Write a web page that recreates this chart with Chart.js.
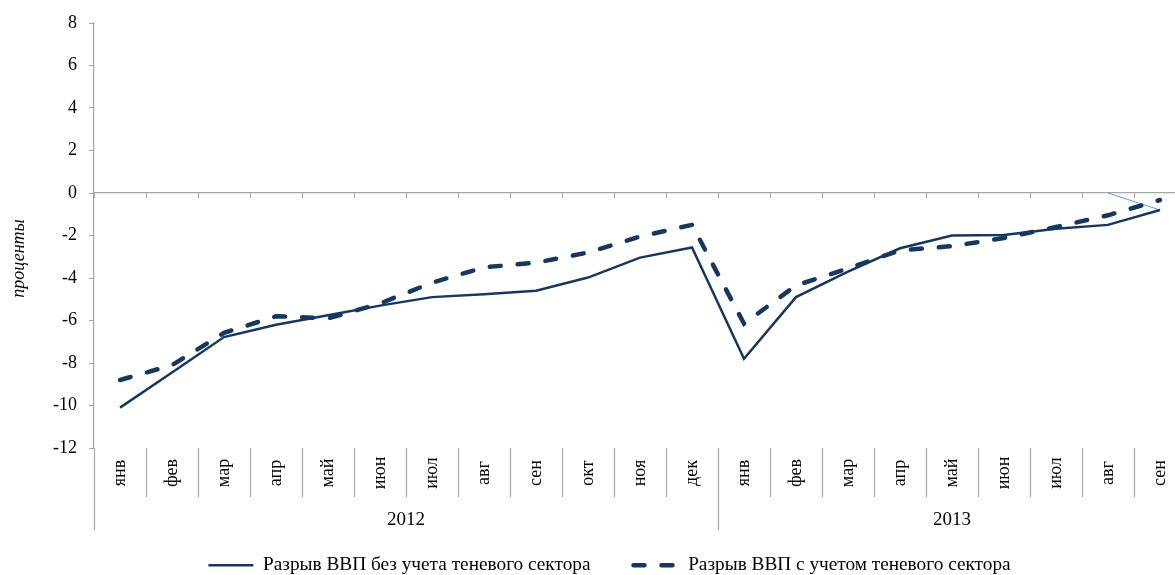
<!DOCTYPE html>
<html lang="ru">
<head>
<meta charset="utf-8">
<title>Разрыв ВВП</title>
<script src="https://cdn.jsdelivr.net/npm/chart.js@4.4.0/dist/chart.umd.min.js"></script>
<style>
    html, body { margin: 0; padding: 0; background: #fff; overflow: hidden; }
    #wrap { width: 1219px; height: 585px; position: relative; }
</style>
</head>
<body>
<div id="wrap"><canvas id="gapChart"></canvas></div>
<script>
// Данные
const months = ['янв', 'фев', 'мар', 'апр', 'май', 'июн', 'июл', 'авг', 'сен', 'окт', 'ноя', 'дек',
                'янв', 'фев', 'мар', 'апр', 'май', 'июн', 'июл', 'авг', 'сен'];
const years = ['2012', '2013'];
const yearLengths = [12, 9];

const gapNoShadow = [-10.1, -8.45, -6.78, -6.2, -5.75, -5.3, -4.9, -4.77, -4.6, -3.98, -3.04, -2.56,
                     -7.8, -4.9, -3.7, -2.6, -2.0, -1.98, -1.68, -1.5, -0.8];
const gapShadow = [-8.8, -8.1, -6.58, -5.8, -5.9, -5.2, -4.22, -3.5, -3.28, -2.8, -2.05, -1.5,
                   -6.15, -4.35, -3.55, -2.7, -2.5, -2.12, -1.6, -1.05, -0.33];
const thinLine = [null, null, null, null, null, null, null, null, null, null, null, null,
                  null, null, null, null, null, null, null, 0, -0.8];

const yTicks = [-12, -10, -8, -6, -4, -2, 0, 2, 4, 6, 8];

const seriesNames = ['Разрыв ВВП без учета теневого сектора', 'Разрыв ВВП с учетом теневого сектора'];
const yTitle = 'проценты';

const navy = '#17375e';
const axisGrey = '#a6a6a6';
const fontFamily = "'Liberation Serif', 'Times New Roman', serif";

// подписи месяцев и лет под графиком
const categoryBand = {
    id: 'categoryBand',
    afterDraw(chart) {
        const { ctx, chartArea, scales: { x } } = chart;
        const step = (x.right - x.left) / months.length;
        const top = chartArea.bottom;

        const groupEdges = [0];
        yearLengths.forEach(n => groupEdges.push(groupEdges[groupEdges.length - 1] + n));

        ctx.save();
        ctx.strokeStyle = axisGrey;
        ctx.lineWidth = 1.2;
        for (let i = 0; i <= months.length; i++) {
            const px = Math.round(x.left + i * step) + 0.5;
            const isEdge = groupEdges.includes(i);
            ctx.beginPath();
            ctx.moveTo(px, top);
            ctx.lineTo(px, top + (isEdge ? 82 : 49));
            ctx.stroke();
        }

        ctx.fillStyle = '#000';
        ctx.font = '18px ' + fontFamily;
        ctx.textAlign = 'center';
        ctx.textBaseline = 'middle';
        months.forEach((m, i) => {
            ctx.save();
            ctx.translate(x.getPixelForValue(i), top + 25);
            ctx.rotate(-Math.PI / 2);
            ctx.fillText(m, 0, 0);
            ctx.restore();
        });

        ctx.font = '19px ' + fontFamily;
        years.forEach((yr, k) => {
            const x0 = x.left + groupEdges[k] * step;
            const x1 = x.left + groupEdges[k + 1] * step;
            ctx.fillText(yr, (x0 + x1) / 2, top + 72);
        });

        // подпись оси Y
        ctx.save();
        ctx.font = 'italic 18px ' + fontFamily;
        ctx.translate(19, (chartArea.top + chartArea.bottom) / 2 + 23);
        ctx.rotate(-Math.PI / 2);
        ctx.fillText(yTitle, 0, 0);
        ctx.restore();

        ctx.restore();
    }
};

new Chart(document.getElementById('gapChart'), {
    type: 'line',
    data: {
        labels: months,
        datasets: [{
            label: seriesNames[0],
            data: gapNoShadow,
            borderColor: navy,
            backgroundColor: navy,
            borderWidth: 2.5,
            pointRadius: 0,
            tension: 0
        }, {
            label: seriesNames[1],
            data: gapShadow,
            borderColor: navy,
            backgroundColor: navy,
            borderWidth: 4.5,
            borderDash: [11, 17],
            borderCapStyle: 'round',
            pointRadius: 0,
            tension: 0
        }, {
            label: 'thin',
            data: thinLine,
            borderColor: '#5b9bd5',
            borderWidth: 1,
            pointRadius: 0,
            tension: 0
        }]
    },
    plugins: [categoryBand],
    options: {
        responsive: true,
        maintainAspectRatio: false,
        animation: false,
        layout: { padding: { top: 23, left: 0, right: 0, bottom: 0 } },
        plugins: {
            legend: {
                position: 'bottom',
                labels: {
                    usePointStyle: true,
                    pointStyle: 'line',
                    pointStyleWidth: 45,
                    padding: 43,
                    color: '#000',
                    font: { family: fontFamily, size: 19.3 },
                    generateLabels(chart) {
                        const items = Chart.defaults.plugins.legend.labels.generateLabels(chart);
                        items.forEach(item => {
                            const ds = chart.data.datasets[item.datasetIndex];
                            item.lineDash = ds.borderDash || [];
                            item.lineCap = ds.borderCapStyle || 'butt';
                            item.lineWidth = ds.borderWidth;
                        });
                        return items;
                    },
                    filter: item => item.datasetIndex < 2
                }
            },
            tooltip: { enabled: false }
        },
        scales: {
            x: {
                type: 'category',
                position: { y: 0 },
                offset: true,
                grid: {
                    offset: true,
                    drawOnChartArea: false,
                    tickLength: 5,
                    color: axisGrey
                },
                border: { color: axisGrey, width: 1.2 },
                ticks: { display: false }
            },
            band: {
                type: 'category',
                axis: 'x',
                position: 'bottom',
                grid: { display: false },
                border: { display: false },
                ticks: { display: false },
                afterFit(scale) { scale.height = 64.7; }
            },
            y: {
                min: -12,
                max: 8,
                afterBuildTicks(scale) { scale.ticks = yTicks.map(v => ({ value: v })); },
                afterFit(scale) { scale.width = 94; },
                grid: {
                    drawOnChartArea: false,
                    tickLength: 5,
                    color: axisGrey
                },
                border: { color: axisGrey, width: 1.2 },
                ticks: {
                    padding: 12,
                    color: '#000',
                    font: { family: fontFamily, size: 18 }
                }
            },
            // пустая ось справа: сдвигает легенду, а область графика заканчивается за кадром
            yRight: {
                axis: 'y',
                position: 'right',
                grid: { display: false },
                border: { display: false },
                ticks: { display: false },
                afterFit(scale) { scale.width = 33; }
            }
        }
    }
});
</script>
</body>
</html>
